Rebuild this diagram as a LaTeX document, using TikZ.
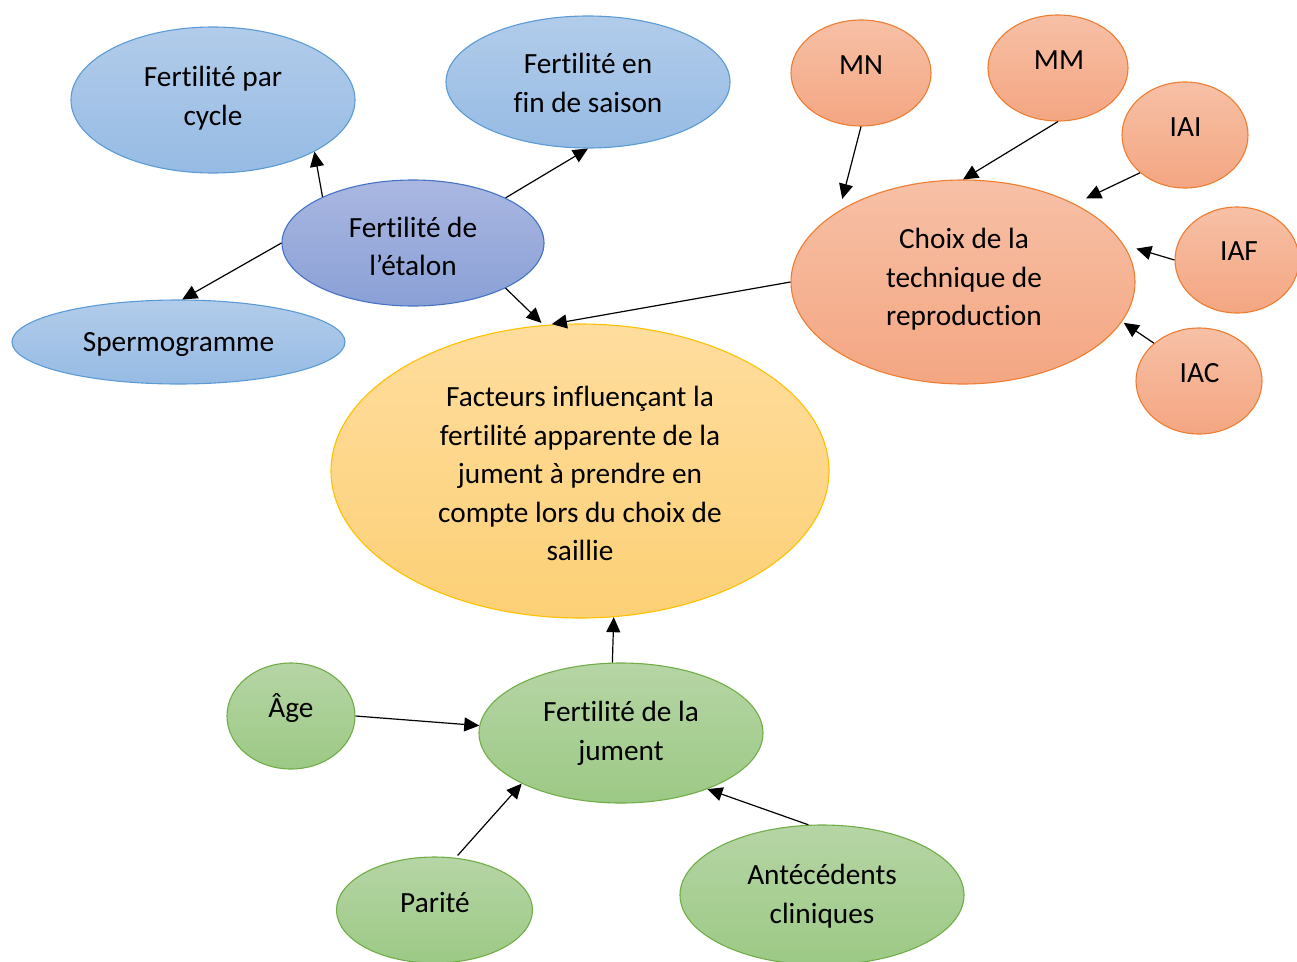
\documentclass[tikz,border=0pt]{standalone}
\usepackage{fontspec}
\setmainfont{Carlito}[Ligatures=NoCommon]
\usetikzlibrary{shapes.geometric,arrows.meta}
\definecolor{bTop}{RGB}{178,204,234}
\definecolor{bBot}{RGB}{150,187,228}
\definecolor{bLine}{RGB}{91,155,213}
\definecolor{eTop}{RGB}{170,183,225}
\definecolor{eBot}{RGB}{138,160,214}
\definecolor{eLine}{RGB}{68,114,196}
\definecolor{yTop}{RGB}{255,221,158}
\definecolor{yBot}{RGB}{252,208,118}
\definecolor{yLine}{RGB}{255,192,0}
\definecolor{oTop}{RGB}{247,192,166}
\definecolor{oBot}{RGB}{244,166,130}
\definecolor{oLine}{RGB}{237,125,49}
\definecolor{gTop}{RGB}{182,213,165}
\definecolor{gBot}{RGB}{156,201,133}
\definecolor{gLine}{RGB}{112,173,71}
\begin{document}
\begin{tikzpicture}[x=1pt,y=-1pt,
  ell/.style={ellipse, inner sep=0pt, line width=1.1pt},
  blueE/.style={ell, draw=bLine, top color=bTop, bottom color=bBot},
  etalE/.style={ell, draw=eLine, top color=eTop, bottom color=eBot},
  yelE/.style={ell, draw=yLine, top color=yTop, bottom color=yBot},
  orE/.style={ell, draw=oLine, top color=oTop, bottom color=oBot},
  grE/.style={ell, draw=gLine, top color=gTop, bottom color=gBot},
  txt/.style={font=\fontsize{29.3}{38.5}\selectfont, align=center, inner sep=0pt, text=black},
  arr/.style={line width=1.2pt, draw=black, -{Triangle[length=15pt,width=14pt]}},
]
\useasboundingbox (0,0) rectangle (1297,961);

% ellipses
\node[blueE, minimum width=284pt, minimum height=146pt] (cycle) at (213,100) {};
\node[blueE, minimum width=284pt, minimum height=132pt] (saison) at (588,82) {};
\node[etalE, minimum width=262pt, minimum height=126pt] (etalon) at (413,243) {};
\node[blueE, minimum width=333pt, minimum height=84pt] (sperm) at (178.5,342) {};
\node[yelE, minimum width=498pt, minimum height=294pt] (fact) at (580,471) {};
\node[orE, minimum width=344pt, minimum height=204pt] (choix) at (963,282) {};
\node[orE, minimum width=140pt, minimum height=106pt] (mn) at (861,73) {};
\node[orE, minimum width=140pt, minimum height=106pt] (mm) at (1058,68) {};
\node[orE, minimum width=126pt, minimum height=106pt] (iai) at (1185,135) {};
\node[orE, minimum width=124pt, minimum height=106pt] (iaf) at (1237,260) {};
\node[orE, minimum width=126pt, minimum height=106pt] (iac) at (1199,381) {};
\node[grE, minimum width=284pt, minimum height=140pt] (jument) at (621,733) {};
\node[grE, minimum width=128pt, minimum height=106pt] (age) at (291,716) {};
\node[grE, minimum width=196pt, minimum height=106pt] (parite) at (434.5,910) {};
\node[grE, minimum width=284pt, minimum height=140pt] (ante) at (822,895) {};

% texts
\node[txt] (tcycle) at (213,98.5) {\strut Fertilité par\\\strut cycle};
\node[txt] (tsaison) at (588,85.5) {\strut Fertilité en\\\strut fin de saison};
\node[txt] (tetalon) at (413,249) {\strut Fertilité de\\\strut l’étalon};
\node[txt] (tsperm) at (178.5,344) {\strut Spermogramme};
\node[txt] (tfact) at (580,476) {\strut Facteurs influençant la\\\strut fertilité apparente de la\\\strut jument à prendre en\\\strut compte lors du choix de\\\strut saillie};
\node[txt] (tchoix) at (964,279.5) {\strut Choix de la\\\strut technique de\\\strut reproduction};
\node[txt] (tmn) at (861,66.5) {\strut MN};
\node[txt] (tmm) at (1059,62) {\strut MM};
\node[txt] (tiai) at (1185.5,129) {\strut IAI};
\node[txt] (tiaf) at (1239,253) {\strut IAF};
\node[txt] (tiac) at (1199.5,375) {\strut IAC};
\node[txt] (tjument) at (621,733.5) {\strut Fertilité de la\\\strut jument};
\node[txt] (tage) at (291,710) {\strut Âge};
\node[txt] (tparite) at (435,905) {\strut Parité};
\node[txt] (tante) at (822,896.5) {\strut Antécédents\\\strut cliniques};

% connectors
\draw[arr] (etalon.153) -- (cycle.-27);
\draw[arr] (etalon.26) -- (saison.south);
\draw[arr] (etalon.west) -- (sperm.85);
\draw[arr, shorten >=3pt] (etalon.-26) -- (fact.104);
\draw[arr, shorten >=3pt] (choix.west) -- (fact.102);
\draw[arr, shorten >=12pt] (mn.south) -- (choix.150);
\draw[arr] (mm.south) -- (choix.north);
\draw[arr, shorten >=12.7pt] (iai.220) -- (choix.35);
\draw[arr, shorten >=13pt] (iaf.west) -- (choix.13);
\draw[arr, shorten >=2pt] (iac.140) -- (choix.-14);
\draw[arr] (jument.97) -- (fact.-77);
\draw[arr] (age.east) -- (jument.177);
\draw[arr, shorten <=3pt] (parite.68) -- (jument.207);
\draw[arr] (ante.101) -- (jument.-33);
\end{tikzpicture}
\end{document}
